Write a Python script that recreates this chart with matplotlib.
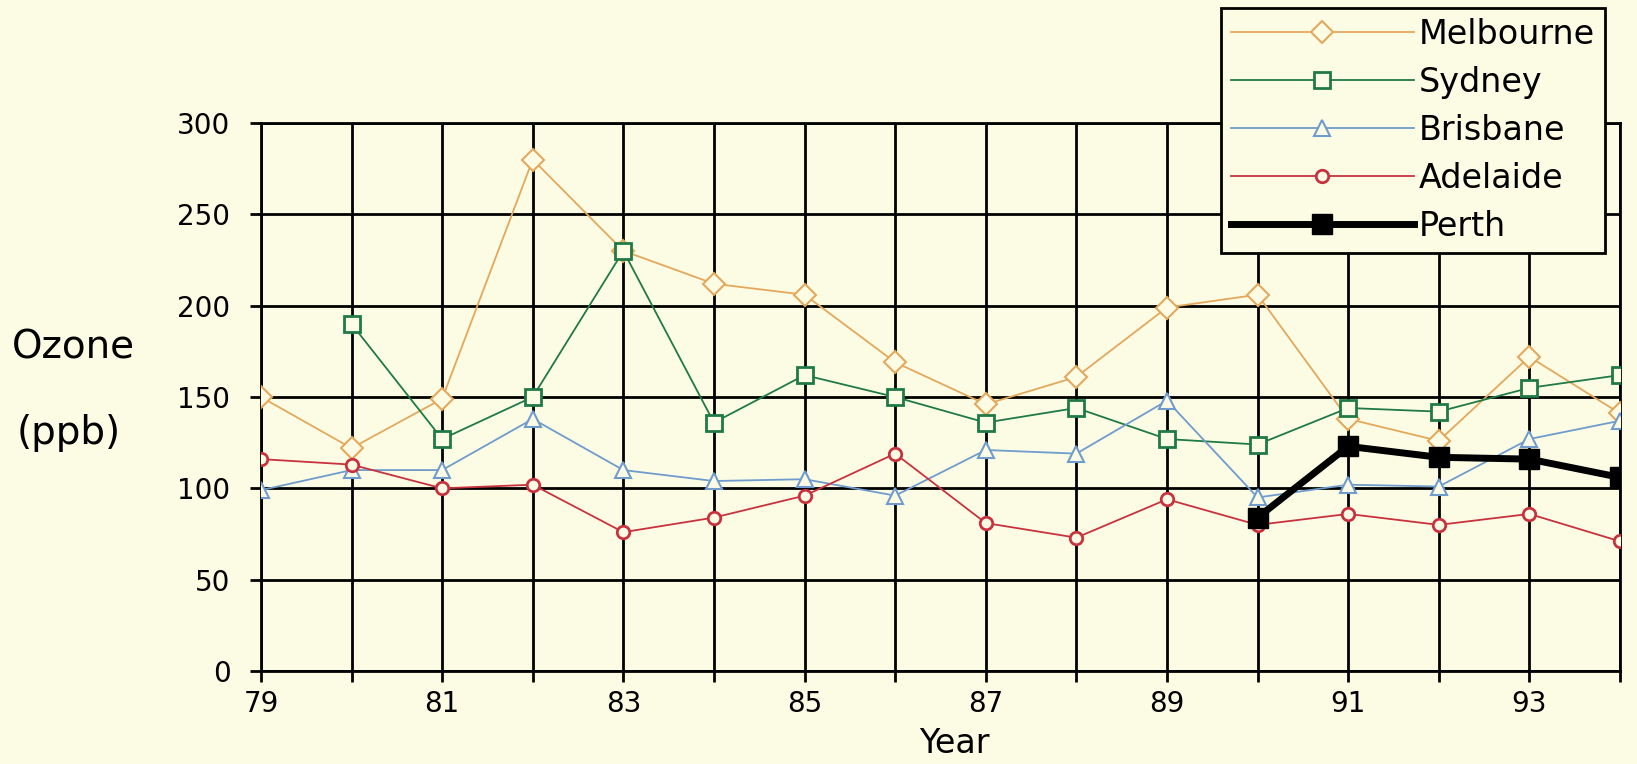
import matplotlib.pyplot as plt
import numpy as np

years = list(range(79, 95))
melbourne = [150, 122, 149, 280, 230, 212, 206, 169, 146, 161, 199, 206, 138, 126, 172, 141]
sydney = [np.nan, 190, 127, 150, 230, 136, 162, 150, 136, 144, 127, 124, 144, 142, 155, 162]
brisbane = [99, 110, 110, 138, 110, 104, 105, 96, 121, 119, 148, 95, 102, 101, 127, 137]
adelaide = [116, 113, 100, 102, 76, 84, 96, 119, 81, 73, 94, 80, 86, 80, 86, 71]
perth = [np.nan] * 11 + [84, 123, 117, 116, 106]

xtick_labels = ['79', '81', '83', '85', '87', '89', '91', '93']
yticks = [0, 50, 100, 150, 200, 250, 300]

bg = '#fcfce4'
fig = plt.figure(figsize=(16.37, 7.64), dpi=100, facecolor=bg)
ax = fig.add_axes([0.1594, 0.1217, 0.8302, 0.7173], facecolor=bg)

ax.plot(years, melbourne, color='#e4a85c', lw=1.3, marker='D', ms=11,
        mfc=bg, mec='#e4a85c', mew=1.5, label='Melbourne', zorder=3)
ax.plot(years, sydney, color='#1f7a45', lw=1.3, marker='s', ms=11,
        mfc=bg, mec='#1f7a45', mew=2, label='Sydney', zorder=3)
ax.plot(years, brisbane, color='#6f9ccc', lw=1.3, marker='^', ms=12,
        mfc=bg, mec='#6f9ccc', mew=1.5, label='Brisbane', zorder=3)
ax.plot(years, adelaide, color='#c8323f', lw=1.3, marker='o', ms=9,
        mfc=bg, mec='#c8323f', mew=2, label='Adelaide', zorder=3)
ax.plot(years, perth, color='black', lw=5, marker='s', ms=14,
        mfc='black', mec='black', label='Perth', zorder=4)

ax.set_xlim(79, 94)
ax.set_ylim(0, 300)
ax.set_xticks(years, minor=True)
ax.set_xticks(range(79, 95, 2))
ax.set_xticklabels(xtick_labels, fontsize=20)
ax.set_yticks(yticks)
ax.set_yticklabels([str(v) for v in yticks], fontsize=20)
ax.tick_params(which='both', direction='out', length=8, width=2, color='black')
ax.tick_params(axis='x', pad=6)
ax.tick_params(axis='y', pad=14)
ax.grid(True, which='both', color='black', lw=2, zorder=1)
ax.set_axisbelow(True)
for s in ax.spines.values():
    s.set_linewidth(2)
    s.set_color('black')

fig.text(0.007, 0.545, 'Ozone', fontsize=28, ha='left', va='center')
fig.text(0.010, 0.433, '(ppb)', fontsize=28, ha='left', va='center')
fig.text(0.583, 0.005, 'Year', fontsize=24, ha='center', va='bottom')

leg = fig.legend(loc='upper right', bbox_to_anchor=(0.9805, 0.9895), fontsize=24,
                 handlelength=5.5, handletextpad=0.15, labelspacing=0.45,
                 borderpad=0.3, borderaxespad=0, fancybox=False, framealpha=1,
                 facecolor=bg, edgecolor='black')
leg.get_frame().set_linewidth(2)

fig.savefig('out.png', dpi=100, facecolor=bg)
